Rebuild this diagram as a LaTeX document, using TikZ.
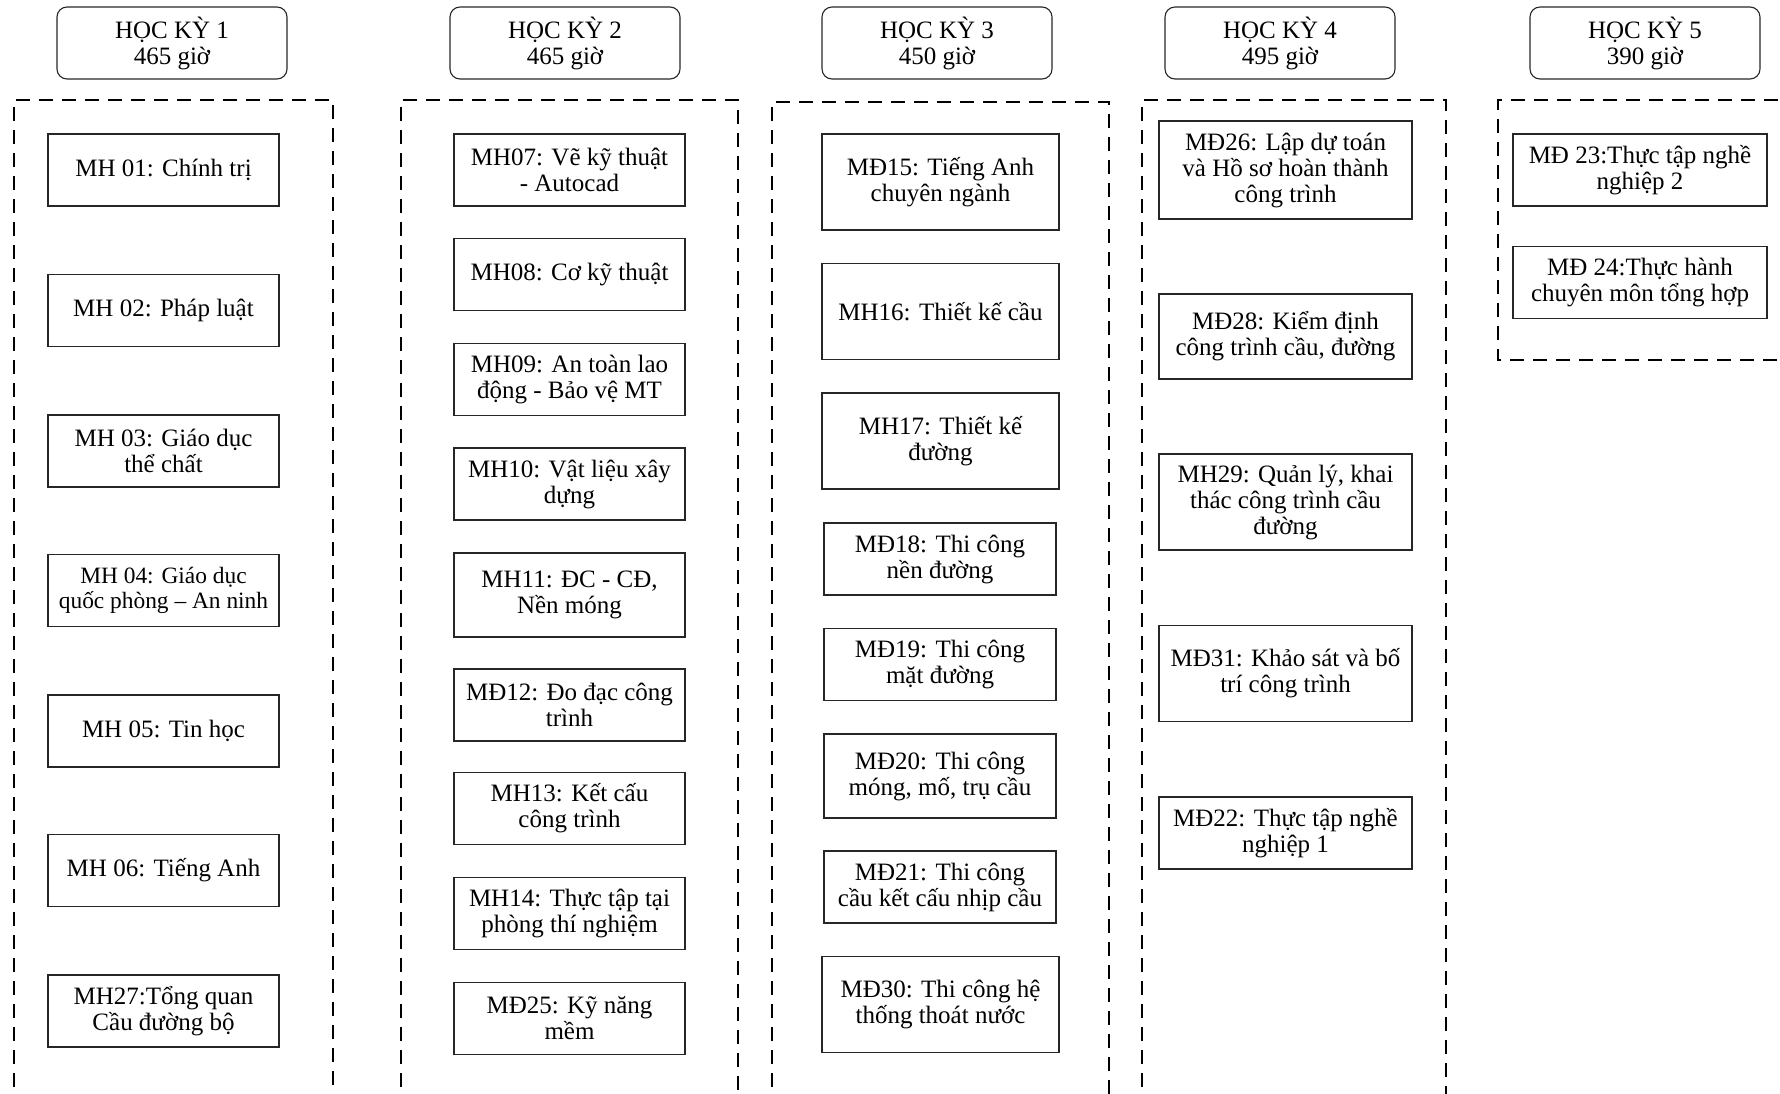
\documentclass[tikz,border=0pt]{standalone}
\usepackage{fontspec}
\setmainfont{Liberation Serif}
\begin{document}
\begin{tikzpicture}
	[x=0.5pt,y=-0.5pt,
	box/.style={draw=black!85,line width=0.55pt,align=center,inner sep=2pt,
		font=\fontsize{12.5}{13}\selectfont},
	hk/.style={box,rounded corners=5pt,minimum width=115pt,minimum height=36pt},
	colA/.style={box,minimum width=115.5pt,minimum height=36pt},
	colB/.style={box,minimum width=115.5pt,minimum height=36pt},
	colC/.style={box,minimum width=118.5pt,minimum height=48pt},
	colCs/.style={box,minimum width=116pt,minimum height=36pt},
	colD/.style={box,minimum width=126.5pt,minimum height=48pt},
	colE/.style={box,minimum width=127pt,minimum height=36pt},
	group/.style={draw=black,line width=1.3pt,dash pattern=on 7pt off 4.5pt}
	]
	\useasboundingbox (0,0) rectangle (1780,1093);
	\node[hk] (hk1) at (172,43) {HỌC KỲ 1\\465 giờ};
	\node[hk] (hk2) at (565,43) {HỌC KỲ 2\\465 giờ};
	\node[hk] (hk3) at (937,43) {HỌC KỲ 3\\450 giờ};
	\node[hk] (hk4) at (1280,43) {HỌC KỲ 4\\495 giờ};
	\node[hk] (hk5) at (1645,43) {HỌC KỲ 5\\390 giờ};
	\draw[group] (14,1110) |- (333,100) -- (333,1110);
	\draw[group] (401,1110) |- (738,100) -- (738,1110);
	\draw[group] (772,1110) |- (1109,102) -- (1109,1110);
	\draw[group] (1142,1110) |- (1446,100) -- (1446,1110);
	\draw[group] (1800,360) -| (1498,100) -- (1800,100);
	\node[colA] (mh01) at (163.5,170) {MH 01: Chính trị};
	\node[colA] (mh02) at (163.5,310.5) {MH 02: Pháp luật};
	\node[colA] (mh03) at (163.5,451) {MH 03: Giáo dục\\thể chất};
	\node[colA,font=\fontsize{11.7}{12.5}\selectfont] (mh04) at (163.5,590.5) {MH 04: Giáo dục\\quốc phòng – An ninh};
	\node[colA] (mh05) at (163.5,731) {MH 05: Tin học};
	\node[colA] (mh06) at (163.5,870.5) {MH 06: Tiếng Anh};
	\node[colA] (mh27) at (163.5,1011) {MH27:Tổng quan\\Cầu đường bộ};
	\node[colB] (mh07) at (569.5,170) {MH07: Vẽ kỹ thuật\\- Autocad};
	\node[colB] (mh08) at (569.5,274.5) {MH08: Cơ kỹ thuật};
	\node[colB] (mh09) at (569.5,379.5) {MH09: An toàn lao\\động - Bảo vệ MT};
	\node[colB] (mh10) at (569.5,484) {MH10: Vật liệu xây\\dựng};
	\node[colB,minimum height=42pt] (mh11) at (569.5,595) {MH11: ĐC - CĐ,\\Nền móng};
	\node[colB] (md12) at (569.5,705) {MĐ12: Đo đạc công\\trình};
	\node[colB] (mh13) at (569.5,808.5) {MH13: Kết cấu\\công trình};
	\node[colB] (mh14) at (569.5,913.5) {MH14: Thực tập tại\\phòng thí nghiệm};
	\node[colB] (md25) at (569.5,1018.5) {MĐ25: Kỹ năng\\mềm};
	\node[colC] (md15) at (940.5,182) {MĐ15: Tiếng Anh\\chuyên ngành};
	\node[colC] (mh16) at (940.5,311.5) {MH16: Thiết kế cầu};
	\node[colC] (mh17) at (940.5,441) {MH17: Thiết kế\\đường};
	\node[colCs] (md18) at (940,559) {MĐ18: Thi công\\nền đường};
	\node[colCs] (md19) at (940,664.5) {MĐ19: Thi công\\mặt đường};
	\node[colCs,minimum height=42pt] (md20) at (940,776) {MĐ20: Thi công\\móng, mố, trụ cầu};
	\node[colCs] (md21) at (940,887) {MĐ21: Thi công\\cầu kết cấu nhịp cầu};
	\node[colC] (md30) at (940.5,1004.5) {MĐ30: Thi công hệ\\thống thoát nước};
	\node[colD,minimum height=49pt] (md26) at (1285.5,170) {MĐ26: Lập dự toán\\và Hồ sơ hoàn thành\\công trình};
	\node[colD,minimum height=42.5pt] (md28) at (1285.5,336.5) {MĐ28: Kiểm định\\công trình cầu, đường};
	\node[colD] (mh29) at (1285.5,502) {MH29: Quản lý, khai\\thác công trình cầu\\đường};
	\node[colD] (md31) at (1285.5,673.5) {MĐ31: Khảo sát và bố\\trí công trình};
	\node[colD,minimum height=36pt] (md22) at (1285.5,833) {MĐ22: Thực tập nghề\\nghiệp 1};
	\node[colE] (md23) at (1640,170) {MĐ 23:Thực tập nghề\\nghiệp 2};
	\node[colE] (md24) at (1640,282.5) {MĐ 24:Thực hành\\chuyên môn tổng hợp};
\end{tikzpicture}
\end{document}
